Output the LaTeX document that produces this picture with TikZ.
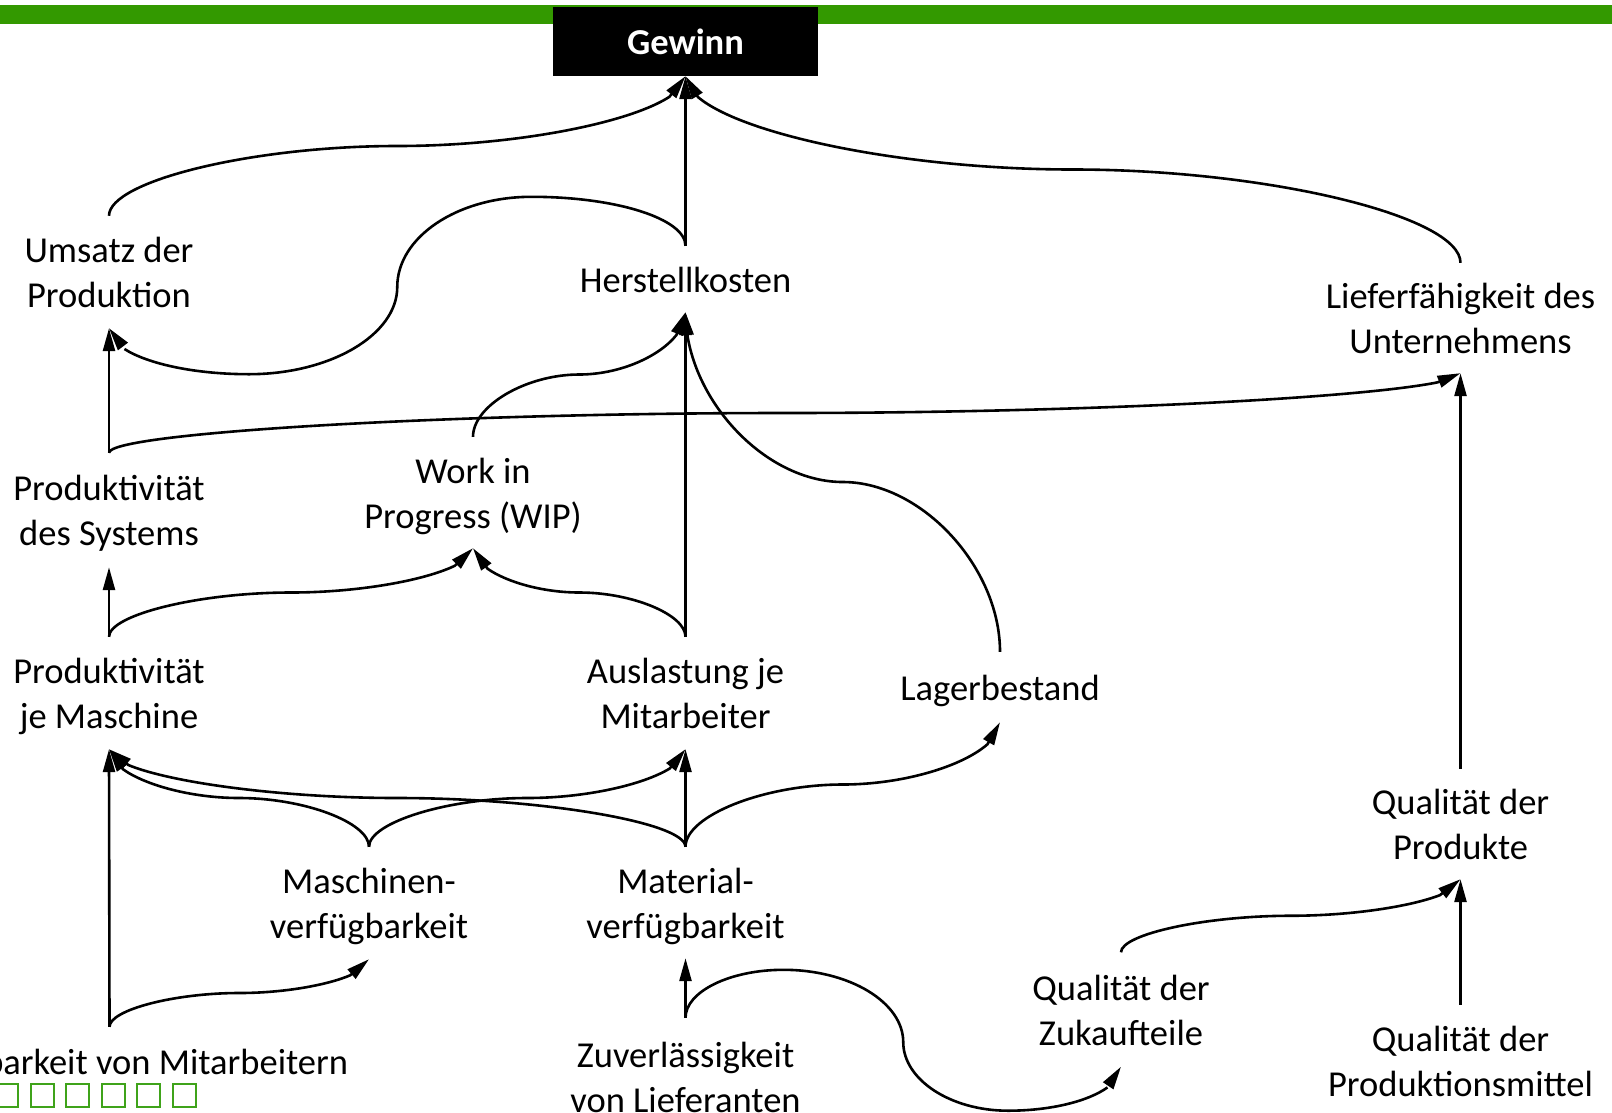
\documentclass[tikz,border=0pt]{standalone}
\usepackage{fontspec}
\setmainfont{Carlito}
\usetikzlibrary{arrows.meta,bending,calc}
\definecolor{barg}{HTML}{339900}
\definecolor{sqg}{HTML}{3FA31A}
\newcommand\fsz{\fontsize{36.5}{45.2}\selectfont}
\newcommand\tst{\rule{0pt}{36.8pt}}
\newcommand\bst{\rule[-10.6pt]{0pt}{10.6pt}}
\newcommand\onestrut{\rule[-11pt]{0pt}{49pt}}
\begin{document}
\begin{tikzpicture}[x=1pt,y=1pt,
 lbl/.style={font=\fsz, align=center, inner sep=0pt},
 lblone/.style={font=\fsz, align=center, inner sep=0pt, execute at begin node=\onestrut},
 con/.style={line width=2.6pt, -{Triangle[length=23pt,width=12pt]}},
 ccthree/.style={to path={let \p1=(\tikztostart), \p2=(\tikztotarget), \p3=($(\p2)-(\p1)$), \n1={1-#1}, \n2={#1} in
   .. controls (\x1,{\y1+0.25*\y3}) and ({\x1+0.25*\x3},{\y1+0.5*\y3}) .. ({\x1+0.5*\x3},{\y1+0.5*\y3})
   .. controls ({\x1+(0.5+\n1/4)*\x3},{\y1+0.5*\y3}) and ({\x1+(0.5+\n1/2)*\x3},{\y1+(0.5+\n1*\n1/4)*\y3})
   .. ({\x1+(1-(3*\n2*\n2-\n2*\n2*\n2)/4)*\x3},{\y1+(1-(3*\n2-\n2*\n2*\n2)/4)*\y3})
   -- (\x2,\y2)}},
 ccthree/.default=0.2
]
\useasboundingbox (0,0) rectangle (1612,-1112);
\fill[white] (0,0) rectangle (1612,-1112);
\fill[barg] (0,-5) rectangle (1612,-24);
\node[fill=black, text=white, font=\fsz\bfseries, minimum width=265pt, minimum height=69pt, inner sep=0pt] (gew) at (685.5,-41.5) {Gewinn};

\node[lbl, minimum height=112pt] (ums) at (109,-272) {\tst Umsatz der\\Produktion\bst};
\node[lblone, minimum height=66pt] (hk) at (685.5,-279) {Herstellkosten};
\node[lbl, minimum height=110pt] (lf) at (1460.5,-318) {\tst Lieferfähigkeit des\\Unternehmens\bst};
\node[lbl, minimum height=114pt] (pds) at (109,-510) {\tst Produktivität\\des Systems\bst};
\node[lbl, minimum height=111pt] (wip) at (473,-492.5) {\tst Work in\\Progress (WIP)\bst};
\node[lbl, minimum height=112pt] (pjm) at (109,-693) {\tst Produktivität\\je Maschine\bst};
\node[lbl, minimum height=112pt] (aus) at (685.5,-693) {\tst Auslastung je\\Mitarbeiter\bst};
\node[lblone, minimum height=70pt] (lag) at (1000,-687) {Lagerbestand};
\node[lbl, minimum height=112pt] (mas) at (369,-903) {\tst Maschinen-\\verfügbarkeit\bst};
\node[lbl, minimum height=111pt] (mat) at (685.5,-902.5) {\tst Material-\\verfügbarkeit\bst};
\node[lbl, minimum height=110pt] (qp) at (1460.5,-824) {\tst Qualität der\\Produkte\bst};
\node[lblone, minimum height=68pt] (mit) at (109.5,-1061) {\hspace*{16pt}Verfügbarkeit von Mitarbeitern};
\node[lbl, minimum height=117pt] (zuv) at (685.5,-1076.5) {\tst Zuverlässigkeit\\von Lieferanten\bst};
\node[lbl, minimum height=114pt] (zuk) at (1121,-1009.5) {\tst Qualität der\\Zukaufteile\bst};
\node[lbl, minimum height=112pt] (qpm) at (1460.5,-1061) {\tst Qualität der\\Produktionsmittel\bst};

\foreach \x in {-5,31,66,102,137,173} \draw[sqg, line width=2pt] (\x,-1084) rectangle ++(23,-23);

% straight connectors
\draw[con] (hk.north) -- (gew.south);
\draw[con] (pds.north) -- (ums.south);
\draw[con] (aus.north) -- (hk.south);
\draw[con] (pjm.north) -- (pds.south);
\draw[con] (mit.north) -- (pjm.south);
\draw[con] (mat.north) -- (aus.south);
\draw[con] (zuv.north) -- (mat.south);
\draw[con] (qpm.north) -- (qp.south);
\draw[con] (qp.north) -- (lf.south);

% curved connectors
\draw[con] (ums.north) to[ccthree=0.2] (gew.south);
\draw[con] (lf.north) to[ccthree=0.15] (gew.south);
\draw[con] (pds.north) to[ccthree=0.155] (lf.south);
\draw[con] (wip.north) to[ccthree=0.25] (hk.south);
\draw[con] (lag.north) to[ccthree=0.1] (hk.south);
\draw[con] (pjm.north) to[ccthree=0.27] (wip.south);
\draw[con] (aus.north) to[ccthree=0.32] (wip.south);
\draw[con] (mas.north) to[ccthree=0.28] (pjm.south);
\draw[con] (mas.north) to[ccthree=0.27] (aus.south);
\draw[con] (mat.north) to[ccthree=0.22] (pjm.south);
\draw[con] (mat.north) to[ccthree=0.24] (lag.south);
\draw[con] (mit.north) to[ccthree=0.33] (mas.south);
\draw[con] (zuk.north) to[ccthree=0.3] (qp.south);

% Herstellkosten -> Umsatz (loop)
\coordinate (d1) at ($(hk.north)+(-154,49)$);
\coordinate (dm) at ($(hk.north)!0.5!(ums.south)$);
\coordinate (d3) at ($(ums.south)+(140,-46)$);
\draw[con] (hk.north) to[out=90,in=0,out distance=27pt,in distance=85pt] (d1)
  to[out=180,in=90,out distance=74pt,in distance=50pt] (dm)
  to[out=-90,in=0,out distance=48pt,in distance=81pt] (d3)
  to[out=180,in=-90,out distance=77pt,in distance=25pt] (ums.south);

% Zuverlaessigkeit -> Zukaufteile (loop)
\coordinate (u1) at ($(zuv.north)+(98,48)$);
\coordinate (um) at ($(zuv.north)!0.5!(zuk.south)$);
\coordinate (u3) at ($(zuk.south)+(-113,-44)$);
\draw[con] (zuv.north) to[out=90,in=180,out distance=26pt,in distance=54pt] (u1)
  to[out=0,in=90,out distance=66pt,in distance=40pt] (um)
  to[out=-90,in=180,out distance=37pt,in distance=58pt] (u3)
  to[out=0,in=-90,out distance=62pt,in distance=24pt] (zuk.south);
\end{tikzpicture}
\end{document}
